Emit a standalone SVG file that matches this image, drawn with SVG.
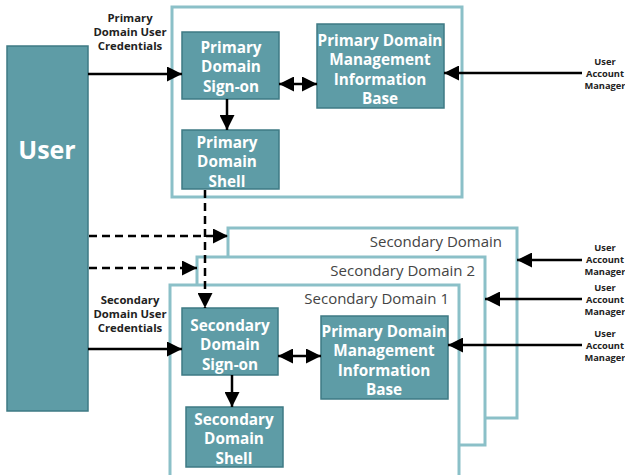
<svg xmlns="http://www.w3.org/2000/svg" width="625" height="475" viewBox="0 0 625 475">
<style>
.box{fill:#5E9CA6;stroke:#3E7A84;stroke-width:1.5}
.cont{fill:#fff;stroke:#8BC0C8;stroke-width:3}
.bt{font-family:"Open Sans","Noto Sans",sans-serif;font-weight:bold;font-size:15.3px;fill:#fff;text-anchor:middle}
.lbl{font-family:"Open Sans","Noto Sans",sans-serif;font-weight:bold;font-size:11.3px;fill:#222;text-anchor:middle}
.uam{font-family:"Open Sans","Noto Sans",sans-serif;font-weight:bold;font-size:9.3px;fill:#222;text-anchor:middle}
.ct{font-family:"Open Sans","Noto Sans",sans-serif;font-size:15px;fill:#444;text-anchor:end}
.ln{stroke:#000;stroke-width:2.5;fill:none}
.dl{stroke:#000;stroke-width:2.5;fill:none;stroke-dasharray:8,5}
</style>
<defs>
<marker id="ah" viewBox="0 0 10 10" refX="10" refY="5" markerWidth="6" markerHeight="6" orient="auto-start-reverse" markerUnits="strokeWidth">
<path d="M0,0L10,5L0,10z" fill="#000"/>
</marker>
</defs>
<rect width="625" height="475" fill="#fff"/>

<g id="secondary-domain">
<rect class="cont" x="228" y="228" width="289" height="190"/>
<text class="ct" x="502" y="247">Secondary Domain</text>
</g>
<g id="secondary-domain-2">
<rect class="cont" x="197" y="257" width="288" height="188"/>
<text class="ct" x="475" y="276">Secondary Domain 2</text>
</g>
<g id="secondary-domain-1">
<rect class="cont" x="170" y="285" width="289" height="195"/>
<text class="ct" x="449" y="304">Secondary Domain 1</text>
</g>
<g id="primary-domain">
<rect class="cont" x="172" y="7" width="290" height="190"/>
</g>

<g id="user">
<rect class="box" x="7" y="46" width="81" height="365"/>
<text class="bt" x="47" y="159" style="font-size:25px">User</text>
</g>

<g id="primary-signon">
<rect class="box" x="182" y="32" width="97" height="67"/>
<text class="bt" x="231" y="53">Primary</text>
<text class="bt" x="231" y="72">Domain</text>
<text class="bt" x="231" y="92">Sign-on</text>
</g>
<g id="primary-shell">
<rect class="box" x="182" y="130" width="97" height="59"/>
<text class="bt" x="227" y="148">Primary</text>
<text class="bt" x="227" y="167">Domain</text>
<text class="bt" x="227" y="187">Shell</text>
</g>
<g id="primary-mib">
<rect class="box" x="317" y="24" width="127" height="84"/>
<text class="bt" x="380" y="46">Primary Domain</text>
<text class="bt" x="380" y="65">Management</text>
<text class="bt" x="380" y="85">Information</text>
<text class="bt" x="380" y="104">Base</text>
</g>

<g id="secondary-signon">
<rect class="box" x="182" y="308" width="96" height="67"/>
<text class="bt" x="230" y="331">Secondary</text>
<text class="bt" x="230" y="350">Domain</text>
<text class="bt" x="230" y="370">Sign-on</text>
</g>
<g id="secondary-shell">
<rect class="box" x="186" y="407" width="97" height="60"/>
<text class="bt" x="234" y="425">Secondary</text>
<text class="bt" x="234" y="444">Domain</text>
<text class="bt" x="234" y="464">Shell</text>
</g>
<g id="secondary-mib">
<rect class="box" x="321" y="316" width="127" height="83"/>
<text class="bt" x="384" y="337">Primary Domain</text>
<text class="bt" x="384" y="356">Management</text>
<text class="bt" x="384" y="376">Information</text>
<text class="bt" x="384" y="395">Base</text>
</g>

<g id="labels">
<text class="lbl" x="130" y="22">Primary</text>
<text class="lbl" x="130" y="36">Domain User</text>
<text class="lbl" x="130" y="50">Credentials</text>
<text class="lbl" x="130" y="304">Secondary</text>
<text class="lbl" x="130" y="318">Domain User</text>
<text class="lbl" x="130" y="332">Credentials</text>
<text class="uam" x="605" y="65">User</text>
<text class="uam" x="605" y="77">Account</text>
<text class="uam" x="605" y="89">Manager</text>
<text class="uam" x="605" y="251">User</text>
<text class="uam" x="605" y="263">Account</text>
<text class="uam" x="605" y="275">Manager</text>
<text class="uam" x="605" y="291">User</text>
<text class="uam" x="605" y="303">Account</text>
<text class="uam" x="605" y="315">Manager</text>
<text class="uam" x="605" y="337">User</text>
<text class="uam" x="605" y="349">Account</text>
<text class="uam" x="605" y="361">Manager</text>
</g>

<g id="connectors">
<line class="ln" x1="88" y1="74" x2="182" y2="74" marker-end="url(#ah)"/>
<line class="ln" x1="279" y1="84" x2="317" y2="84" marker-start="url(#ah)" marker-end="url(#ah)"/>
<line class="ln" x1="227" y1="99" x2="227" y2="130" marker-end="url(#ah)"/>
<line class="ln" x1="582" y1="73" x2="444" y2="73" marker-end="url(#ah)"/>
<line class="dl" x1="205" y1="190" x2="205" y2="308" marker-end="url(#ah)"/>
<line class="dl" x1="89" y1="236" x2="228" y2="236" marker-end="url(#ah)"/>
<line class="dl" x1="89" y1="268" x2="197" y2="268" marker-end="url(#ah)"/>
<line class="ln" x1="88" y1="349" x2="182" y2="349" marker-end="url(#ah)"/>
<line class="ln" x1="278" y1="356" x2="321" y2="356" marker-start="url(#ah)" marker-end="url(#ah)"/>
<line class="ln" x1="232" y1="375" x2="232" y2="407" marker-end="url(#ah)"/>
<line class="ln" x1="582" y1="260" x2="517" y2="260" marker-end="url(#ah)"/>
<line class="ln" x1="582" y1="299" x2="485" y2="299" marker-end="url(#ah)"/>
<line class="ln" x1="582" y1="345" x2="448" y2="345" marker-end="url(#ah)"/>
</g>
</svg>
